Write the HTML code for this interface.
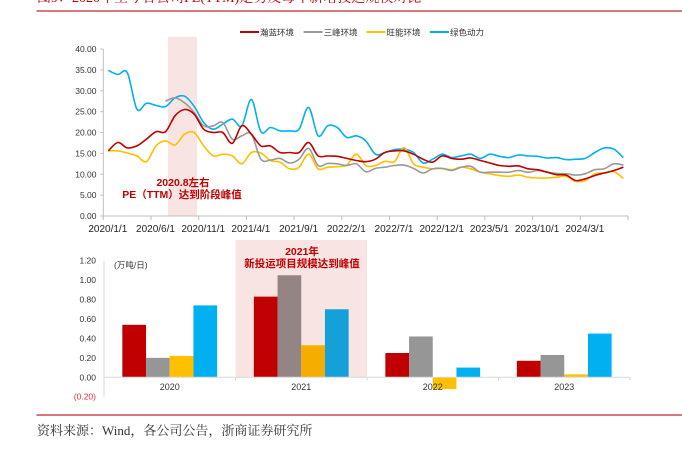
<!DOCTYPE html>
<html><head><meta charset="utf-8"><style>
body{margin:0;background:#fff;width:682px;height:450px;overflow:hidden;position:relative;font-family:"Liberation Sans","Noto Sans CJK SC",sans-serif}
svg{position:absolute;left:0;top:0}
</style></head><body>
<svg width="682" height="450">
<text x="37" y="2" font-family="Liberation Serif,Noto Serif CJK SC,serif" font-size="14" fill="#c00000">图9：2020年至今各公司PE(TTM)走势及每年新增投运规模对比</text>
<line x1="36.5" y1="11" x2="682" y2="11" stroke="#c0262d" stroke-width="1.2"/>
<g id="topChart"></g>
<g id="botChart"></g>
<line x1="36.5" y1="415" x2="682" y2="415" stroke="#c0262d" stroke-width="1.2"/>
<text x="37" y="435" font-family="Liberation Serif,Noto Serif CJK SC,serif" font-size="13" fill="#333">资料来源：Wind，各公司公告，浙商证券研究所</text>
</svg>
<script>
const NS='http://www.w3.org/2000/svg';
const xTickLabels=['2020/1/1','2020/6/1','2020/11/1','2021/4/1','2021/9/1','2022/2/1','2022/7/1','2022/12/1','2023/5/1','2023/10/1','2024/3/1'];
const yTicksTop=[0,5,10,15,20,25,30,35,40];
const seriesNames=['瀚蓝环境','三峰环境','旺能环境','绿色动力'];
const seriesColors=['#c00000','#999999','#ffc000','#00b0f0'];
const hanlan=[15.6,17.6,16.3,16.8,18.4,20.2,20.2,24,25.5,24.4,20.8,20,20,17.4,21.6,19.6,16.8,16.8,15.2,15.2,15.2,17.6,14.4,14.4,14.3,13.8,13.3,13,13.6,15.2,15.6,15.6,14.8,13.6,12.9,14.4,13.8,13.6,13.9,13.3,12.7,12.1,11.9,12,11.3,11.1,10.5,9.9,9.8,8.5,8.9,9.7,10.3,10.9,11.7];
const sanfeng=[null,null,null,null,null,null,27.5,28.3,27.1,24.8,21.6,21.6,22.4,18.4,19.2,19.6,13.6,13.4,13.8,12.7,13.6,16.2,12.1,12.6,12.5,12.1,12.5,10.6,11.4,11.7,12.1,12.2,11.4,10.3,11.3,11.4,10.9,11.7,11.9,10.5,10.5,10.5,10.5,10.9,10.5,10.9,10.5,10.2,10.1,9.8,10.1,11.1,11.3,12.5,12.2];
const wangneng=[15.6,15.6,15.1,14.4,13,16.8,18,17,19.6,20,16.8,14.4,14.8,14.4,12.5,15.2,15.1,13.3,12.9,11.3,11.7,14.8,11.3,11.7,11.8,12.2,14.8,12.1,12.1,13.1,13,16.4,12.5,11.7,11.3,11.4,11.1,11.7,11.3,10.5,10.1,9.7,9.5,9.8,9.3,9.1,9.1,9.3,9.5,8.3,8.5,10.1,10.3,10.6,9.0];
const lvse=[34.9,33.9,34.3,25.6,27,26.5,26.2,28.3,28.7,26.3,22.4,20.8,22,23.2,21.6,27.9,20.2,21.2,20.4,20.4,20.8,26,19.2,21.6,21.2,18.8,19.2,18,14.8,15.2,15.9,16,15.2,12.7,13.6,14.8,14,14.4,14.8,13.8,14.8,14.3,14,14.6,14.4,14.3,13.9,14,13.5,13.6,13.8,15.2,16.3,16,14];
const barCategories=['2020','2021','2022','2023'];
const barHanlan=[0.54,0.83,0.25,0.17];
const barSanfeng=[0.20,1.05,0.42,0.23];
const barWangneng=[0.22,0.33,-0.12,0.03];
const barLvse=[0.74,0.70,0.10,0.45];
const yTicksBot=[-0.2,0,0.2,0.4,0.6,0.8,1.0,1.2];

function el(tag,attrs,parent,txt){const e=document.createElementNS(NS,tag);for(const k in attrs)e.setAttribute(k,attrs[k]);if(txt!==undefined)e.textContent=txt;parent.appendChild(e);return e;}
const topG=document.getElementById('topChart');
const X0=103.3,MW=9.54,XEND=628;
const xm=m=>X0+(m+0.52)*MW;
const yv=v=>216-v*4.175;
let r=el('rect',{x:168,y:36.7,width:29,height:179.3,fill:'#f9e4e4'},topG);


let ax=el('line',{x1:X0,y1:216,x2:XEND,y2:216,stroke:'#bfbfbf','stroke-width':1},topG);


let ay=el('line',{x1:X0,y1:49,x2:X0,y2:216,stroke:'#bfbfbf','stroke-width':1},topG);


yTicksTop.forEach(v=>{
  let t=el('text',{x:96.5,y:yv(v)+3,'font-size':8.5,'text-anchor':'end',fill:'#333'},topG,v.toFixed(2));
  
  
  el('line',{x1:X0-3,y1:yv(v),x2:X0,y2:yv(v),stroke:'#bfbfbf'},topG);
});
xTickLabels.forEach((s,i)=>{
  const tx=X0+i*5*MW;
  el('line',{x1:tx,y1:216,x2:tx,y2:220,stroke:'#bfbfbf'},topG);
  let t=el('text',{x:tx+4.5,y:232,'font-size':10,'text-anchor':'middle',fill:'#222'},topG,s);
  
  
});
el('line',{x1:XEND,y1:216,x2:XEND,y2:220,stroke:'#bfbfbf'},topG);
const allSeries=[hanlan,sanfeng,wangneng,lvse];
function smooth(pts){
  let d='M'+pts[0][0].toFixed(1)+','+pts[0][1].toFixed(1);
  for(let i=0;i<pts.length-1;i++){
    const p0=pts[Math.max(0,i-1)],p1=pts[i],p2=pts[i+1],p3=pts[Math.min(pts.length-1,i+2)];
    const c1x=p1[0]+(p2[0]-p0[0])/6,c1y=p1[1]+(p2[1]-p0[1])/6;
    const c2x=p2[0]-(p3[0]-p1[0])/6,c2y=p2[1]-(p3[1]-p1[1])/6;
    d+='C'+c1x.toFixed(1)+','+c1y.toFixed(1)+' '+c2x.toFixed(1)+','+c2y.toFixed(1)+' '+p2[0].toFixed(1)+','+p2[1].toFixed(1);
  }
  return d;
}
[3,2,1,0].forEach(si=>{
  const data=allSeries[si];const pts=[];
  data.forEach((v,m)=>{if(v===null)return;pts.push([xm(m),yv(v)]);});
  let p=el('path',{d:smooth(pts),fill:'none',stroke:seriesColors[si],'stroke-width':1.6,'stroke-linejoin':'round'},topG);
  
  
});
const legX=[240,303.6,366.5,430];
seriesNames.forEach((n,i)=>{
  const g=el('g',{},topG);
  
  
  el('line',{x1:legX[i],y1:32,x2:legX[i]+19,y2:32,stroke:seriesColors[i],'stroke-width':2},g);
  el('text',{x:legX[i]+20,y:35.5,'font-size':8.5,fill:'#333'},g,n);
});
let a1=el('text',{x:183,y:186,'font-size':10.5,'font-weight':'bold','text-anchor':'middle',fill:'#c00000'},topG,'2020.8左右');


let a2=el('text',{x:182,y:198,'font-size':10.5,'font-weight':'bold','text-anchor':'middle',fill:'#c00000'},topG,'PE（TTM）达到阶段峰值');



const botG=document.getElementById('botChart');
const BX0=104,CW=131.5,BW=23.7;
const by=v=>377.3-v*97.2;
let r2=el('rect',{x:BX0+CW,y:240,width:CW,height:137.3,fill:'#f9e4e4'},botG);


let bay=el('line',{x1:BX0,y1:by(1.2),x2:BX0,y2:by(-0.2),stroke:'#d9d9d9'},botG);


yTicksBot.forEach(v=>{
  const s=v<0?'('+Math.abs(v).toFixed(2)+')':v.toFixed(2);
  let t=el('text',{x:96,y:by(v)+3,'font-size':8.5,'text-anchor':'end',fill:v<0?'#e0303a':'#333'},botG,s);
  
  
});
const barSeries=[barHanlan,barSanfeng,barWangneng,barLvse];
barCategories.forEach((c,ci)=>{
  const cx=BX0+CW*(ci+0.5);
  barSeries.forEach((arr,si)=>{
    const v=arr[ci];
    let col=seriesColors[si];
    if(ci===1){col=['#c00000','#948584','#f5ae00','#16a0d8'][si];}
    if(si===1&&ci!==1)col='#969696';
    let b=el('rect',{x:cx-2*BW+si*BW,y:Math.min(by(v),by(0)),width:BW,height:Math.abs(by(v)-by(0)),fill:col},botG);
    
    
  });
  let t=el('text',{x:cx,y:390,'font-size':9,'text-anchor':'middle',fill:'#333'},botG,c);
  
  
});
let bax=el('line',{x1:BX0,y1:by(0),x2:BX0+4*CW,y2:by(0),stroke:'#d9d9d9'},botG);


for(let i=0;i<=4;i++)el('line',{x1:BX0+CW*i,y1:by(0),x2:BX0+CW*i,y2:by(0)+3,stroke:'#d9d9d9'},botG);
let u=el('text',{x:114,y:268,'font-size':8.5,fill:'#333'},botG,'(万吨/日)');


let b1=el('text',{x:302,y:255,'font-size':10.5,'font-weight':'bold','text-anchor':'middle',fill:'#c00000'},botG,'2021年');


let b2=el('text',{x:302,y:267,'font-size':10.5,'font-weight':'bold','text-anchor':'middle',fill:'#c00000'},botG,'新投运项目规模达到峰值');


</script>
</body></html>
